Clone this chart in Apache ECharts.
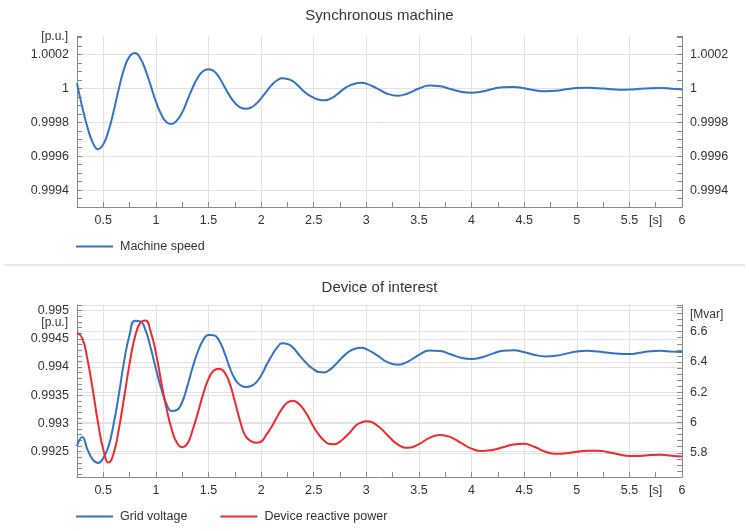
<!DOCTYPE html>
<html>
<head>
<meta charset="utf-8">
<title>Synchronous machine</title>
<script src="https://cdn.jsdelivr.net/npm/echarts@6/dist/echarts.min.js"></script>
<style>
  html, body { margin: 0; padding: 0; background: #fff; }
  #chart { width: 749px; height: 531px; }
</style>
</head>
<body>
<div id="chart"></div>
<script>
// time [s], shared by all three curves
const time = [
  0.25, 0.3, 0.35, 0.4, 0.45, 0.5, 0.55, 0.6, 0.65, 0.7,
  0.75, 0.8, 0.85, 0.9, 0.95, 1.0, 1.05, 1.1, 1.15, 1.2,
  1.25, 1.3, 1.35, 1.4, 1.45, 1.5, 1.55, 1.6, 1.65, 1.7,
  1.75, 1.8, 1.85, 1.9, 1.95, 2.0, 2.05, 2.1, 2.15, 2.2,
  2.25, 2.3, 2.35, 2.4, 2.45, 2.5, 2.55, 2.6, 2.65, 2.7,
  2.75, 2.8, 2.85, 2.9, 2.95, 3.0,
  3.1, 3.2, 3.3, 3.4, 3.5, 3.6, 3.7, 3.8, 3.9, 4.0,
  4.1, 4.2, 4.3, 4.4, 4.5, 4.6, 4.7, 4.8, 4.9, 5.0,
  5.1, 5.2, 5.3, 5.4, 5.5, 5.6, 5.7, 5.8, 5.9, 6.0
]

// machine speed [p.u.]
const machineSpeed = [
  1.00003, 0.99989, 0.99977, 0.99968, 0.999641, 0.99967, 0.99975, 0.99987, 1.000005, 1.00012,
  1.00019, 1.000209, 1.00018, 1.00011, 1.000018, 0.999922, 0.999848, 0.999801, 0.99979, 0.999812,
  0.999859, 0.999932, 1.000006, 1.000066, 1.000103, 1.000114, 1.000103, 1.000066, 1.000012, 0.999958,
  0.999915, 0.999889, 0.99988, 0.999886, 0.999908, 0.999942, 0.999982, 1.00002, 1.000047, 1.00006,
  1.000056, 1.000043, 1.000018, 0.999986, 0.999962, 0.999945, 0.999934, 0.99993, 0.999937, 0.999955,
  0.99998, 1.000004, 1.00002, 1.00003, 1.000034, 1.000029,
  1.000001, 0.999969, 0.999957, 0.999972, 1.0, 1.000017, 1.000013, 0.999997, 0.999981, 0.999975,
  0.999982, 0.999997, 1.000008, 1.000009, 1.000001, 0.99999, 0.999984, 0.999986, 0.999995, 1.000003,
  1.000005, 1.000002, 0.999997, 0.999993, 0.999994, 0.999998, 1.000002, 1.000003, 0.999998, 0.999994
]

// grid voltage [p.u.]
const gridVoltage = [
  0.992594, 0.99276, 0.992535, 0.99236, 0.9923, 0.992388, 0.992594, 0.993008, 0.993539, 0.994128,
  0.994571, 0.99482, 0.99481, 0.99466, 0.99434, 0.99397, 0.99362, 0.99335, 0.99322, 0.993238,
  0.99338, 0.99367, 0.994, 0.99428, 0.99448, 0.99457, 0.994564, 0.99447, 0.99426, 0.994,
  0.99379, 0.99368, 0.993645, 0.99366, 0.99372, 0.99385, 0.99403, 0.9942, 0.99434, 0.99442,
  0.99441, 0.99435, 0.99424, 0.99413, 0.99403, 0.99396, 0.99391, 0.993905, 0.99395, 0.99403,
  0.99413, 0.99422, 0.99429, 0.99433, 0.99434, 0.994319,
  0.994211, 0.994087, 0.99404, 0.994102, 0.994217, 0.994295, 0.994286, 0.994227, 0.994164, 0.994141,
  0.994173, 0.994237, 0.99429, 0.994297, 0.994263, 0.994215, 0.994188, 0.994199, 0.994238, 0.994276,
  0.994287, 0.994275, 0.994253, 0.994234, 0.99423, 0.994254, 0.994282, 0.994287, 0.994275, 0.994265
]

// device reactive power [Mvar]
const reactivePower = [
  6.593, 6.557, 6.414, 6.216, 5.997, 5.822, 5.735, 5.8, 5.965, 6.175,
  6.39, 6.563, 6.658, 6.674, 6.6, 6.46, 6.27, 6.095, 5.955, 5.866,
  5.837, 5.861, 5.953, 6.066, 6.19, 6.288, 6.343, 6.355, 6.333, 6.26,
  6.14, 6.01, 5.912, 5.878, 5.866, 5.874, 5.92, 5.972, 6.035, 6.092,
  6.132, 6.144, 6.128, 6.09, 6.035, 5.97, 5.918, 5.879, 5.858, 5.857,
  5.874, 5.904, 5.939, 5.98, 6.0, 6.008,
  5.982, 5.917, 5.854, 5.833, 5.857, 5.898, 5.918, 5.903, 5.865, 5.827,
  5.811, 5.819, 5.837, 5.854, 5.859, 5.838, 5.807, 5.793, 5.797, 5.806,
  5.814, 5.814, 5.804, 5.789, 5.779, 5.779, 5.785, 5.787, 5.781, 5.776
]

const font = 'Liberation Sans, Arial, sans-serif'
const axisColor = '#8a8a8a'
const gridColor = '#e2e2e2'
const none = 'rgba(0,0,0,0)'
const blue = '#3273c6'
const red = '#ee2a2e'

function pairs(xs, ys) {
  return xs.map((x, i) => [x, ys[i]])
}
function onStep(v, step) {
  const k = Math.round(v / step)
  return Math.abs(v - k * step) < step * 1e-4
}
function stepLabel(step, digits) {
  return v => onStep(v, step) ? String(+v.toFixed(digits)) : ''
}
function timeLabel(v) {
  if (Math.abs(v - 5.75) < 1e-6) return '[s]'
  return onStep(v, 0.5) ? String(+v.toFixed(2)) : ''
}

const labelStyle = { color: '#333', fontSize: 12.5, fontFamily: font }
const unitStyle = { color: '#333', fontSize: 12, fontFamily: font, verticalAlign: 'middle' }

function timeAxis(gridIndex) {
  return {
    type: 'value',
    gridIndex: gridIndex,
    min: 0.25,
    max: 6,
    interval: 0.25,
    axisLine: { onZero: false, lineStyle: { color: axisColor } },
    axisTick: { inside: true, length: 5, lineStyle: { color: axisColor } },
    axisLabel: Object.assign({ margin: 7, formatter: timeLabel }, labelStyle),
    splitLine: { show: true, lineStyle: { color: [none, gridColor] } }
  }
}

function valueAxis(opt) {
  return Object.assign({
    type: 'value',
    nameMoveOverlap: false,
    axisLine: { show: true, onZero: false, lineStyle: { color: axisColor } },
    axisTick: { show: true, inside: true, length: 5, lineStyle: { color: axisColor } }
  }, opt)
}

function lineSeries(name, x, y, data, color) {
  return {
    name: name, type: 'line', xAxisIndex: x, yAxisIndex: y,
    data: data, smooth: 0.5, symbol: 'none', showSymbol: false,
    color: color, lineStyle: { width: 2, color: color }
  }
}

const legendText = { color: '#333', fontSize: 12.5, fontFamily: font, padding: [0, 0, 0, 2] }

const chart = echarts.init(document.getElementById('chart'))

const option = {
  animation: false,
  title: [
    {
      text: 'Synchronous machine', left: 379.5, top: 8, textAlign: 'center', padding: 0,
      textStyle: { fontSize: 15, fontWeight: 'normal', color: '#333', fontFamily: font }
    },
    {
      text: 'Device of interest', left: 379.5, top: 280, textAlign: 'center', padding: 0,
      textStyle: { fontSize: 15, fontWeight: 'normal', color: '#333', fontFamily: font }
    }
  ],
  graphic: [
    {
      type: 'line', shape: { x1: 4, y1: 265, x2: 745, y2: 265 },
      style: { stroke: '#e8e8e8', lineWidth: 2 }
    }
  ],
  legend: [
    {
      data: ['Machine speed'], left: 76, top: 240, padding: 0,
      icon: 'rect', itemWidth: 37, itemHeight: 2,
      textStyle: legendText
    },
    {
      data: ['Grid voltage', 'Device reactive power'], left: 76, top: 510, padding: 0,
      icon: 'rect', itemWidth: 37, itemHeight: 2, itemGap: 33,
      textStyle: legendText
    }
  ],
  grid: [
    { left: 77, top: 36, width: 605, height: 171 },
    { left: 77, top: 305, width: 605, height: 172 }
  ],
  xAxis: [timeAxis(0), timeAxis(1)],
  yAxis: [
    // top, left
    valueAxis({
      gridIndex: 0, position: 'left', min: 0.9993, max: 1.00031, interval: 0.00005,
      name: '[p.u.]', nameLocation: 'end', nameGap: -1,
      nameTextStyle: Object.assign({ align: 'right', padding: [0, 9, 0, 0] }, unitStyle),
      axisLabel: Object.assign({ margin: 8, formatter: stepLabel(0.0002, 4) }, labelStyle),
      splitLine: { show: true, lineStyle: { color: [none, none, gridColor, none] } }
    }),
    // top, right
    valueAxis({
      gridIndex: 0, position: 'right', min: 0.9993, max: 1.00031, interval: 0.00005,
      axisLabel: Object.assign({ margin: 8, formatter: stepLabel(0.0002, 4) }, labelStyle),
      splitLine: { show: false }
    }),
    // bottom, left: grid voltage
    valueAxis({
      gridIndex: 1, position: 'left', min: 0.99205, max: 0.9951,
      minInterval: 0.0001, maxInterval: 0.0001, splitNumber: 30,
      name: '[p.u.]', nameLocation: 'end', nameGap: -18,
      nameTextStyle: Object.assign({ align: 'right', padding: [0, 9, 0, 0] }, unitStyle),
      axisLabel: Object.assign({ margin: 8, formatter: stepLabel(0.0005, 4) }, labelStyle),
      splitLine: { show: true, lineStyle: { color: [gridColor, none, none, none, none] } }
    }),
    // bottom, right: reactive power
    valueAxis({
      gridIndex: 1, position: 'right', min: 5.64, max: 6.776, interval: 0.04,
      name: '[Mvar]', nameLocation: 'end', nameGap: -10,
      nameTextStyle: Object.assign({ align: 'left', padding: [0, 0, 0, 8] }, unitStyle),
      axisLabel: Object.assign({ margin: 8, formatter: stepLabel(0.2, 2) }, labelStyle),
      splitLine: { show: true, lineStyle: { color: [none, none, none, none, gridColor] } }
    })
  ],
  series: [
    lineSeries('Machine speed', 0, 0, pairs(time, machineSpeed), blue),
    lineSeries('Grid voltage', 1, 2, pairs(time, gridVoltage), blue),
    lineSeries('Device reactive power', 1, 3, pairs(time, reactivePower), red)
  ]
}

chart.setOption(option)
window.addEventListener('resize', () => {
  chart.resize()
})
</script>
</body>
</html>
